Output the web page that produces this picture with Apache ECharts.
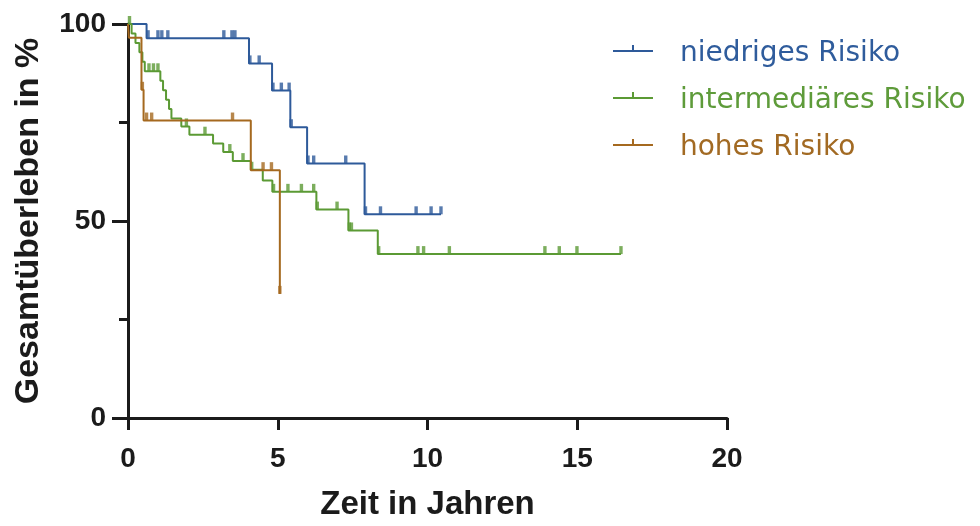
<!DOCTYPE html>
<html>
<head>
<meta charset="utf-8">
<script src="https://cdn.jsdelivr.net/npm/echarts@6/dist/echarts.min.js"></script>
<style>
  html, body { margin: 0; padding: 0; background: #ffffff; }
  #chart { width: 980px; height: 526px; }
</style>
</head>
<body>
<div id="chart"></div>
<script>
// Kaplan–Meier Gesamtüberleben nach Risikogruppe
const groupNames = ['niedriges Risiko', 'intermediäres Risiko', 'hohes Risiko'];

// niedriges Risiko: Zeitpunkte (Jahre), an denen eine neue Stufe beginnt, und Überleben in %
const lowTimes = [0, 0.62, 4.04, 4.81, 5.42, 5.98, 7.9, 10.45];
const lowSurv = [100, 96.4, 90.0, 83.1, 73.8, 64.6, 51.7, 51.7];
const lowCensored = [0.67, 1.0, 1.13, 1.33, 3.2, 3.47, 3.57, 4.07, 4.38, 4.84, 5.12, 5.38, 5.45,
  6.01, 6.2, 7.27, 7.93, 8.43, 9.62, 10.12, 10.45];

// intermediäres Risiko
const midTimes = [0, 0.12, 0.25, 0.38, 0.48, 0.56, 1.08, 1.17, 1.27, 1.37, 1.45, 1.78, 2.05,
  2.84, 3.18, 3.5, 4.1, 4.5, 4.82, 6.29, 7.36, 8.34, 16.46];
const midSurv = [100, 97.6, 95.2, 92.8, 90.4, 88.0, 85.6, 83.2, 80.8, 78.4, 76.0, 74.0, 71.9,
  69.7, 67.5, 65.2, 63.0, 60.3, 57.4, 52.9, 47.6, 41.6, 41.6];
const midCensored = [0.05, 0.7, 0.85, 1.0, 1.95, 2.57, 3.4, 3.84, 4.13, 4.86, 5.34, 5.79, 6.2,
  6.32, 6.98, 7.39, 7.46, 8.37, 9.68, 9.87, 10.73, 13.92, 14.4, 14.99, 16.46];

// hohes Risiko
const highTimes = [0, 0.03, 0.45, 0.52, 4.1, 5.07];
const highSurv = [100, 96.5, 83.3, 75.5, 62.9, 31.5];
const highCensored = [0.48, 0.62, 0.79, 3.49, 4.51, 4.79, 5.07];

// Achsenbeschriftungen
const xTicks = [0, 5, 10, 15, 20];
const yTicks = [0, 50, 100];

const colors = ['#2e5a9a', '#5b9a34', '#a5691f'];
const textColors = ['#2f5c9c', '#5e9b3a', '#a26a23'];

// Überleben zu einem Zeitpunkt aus der Stufenfunktion ablesen
function survivalAt(times, levels, t) {
  let v = levels[0];
  for (let i = 0; i < times.length; i++) {
    if (times[i] <= t + 1e-9) v = levels[i];
  }
  return v;
}

const groups = [
  { times: lowTimes, surv: lowSurv, cens: lowCensored },
  { times: midTimes, surv: midSurv, cens: midCensored },
  { times: highTimes, surv: highSurv, cens: highCensored }
];

const series = [];
groups.forEach((g, k) => {
  series.push({
    name: groupNames[k],
    type: 'line',
    step: 'end',
    color: colors[k],
    symbol: 'none',
    clip: false,
    lineStyle: { width: 2, color: colors[k] },
    data: g.times.map((t, i) => [t, g.surv[i]]),
    z: 3 + k
  });
  // Zensierungsmarken als kurze senkrechte Striche
  series.push({
    name: groupNames[k],
    type: 'scatter',
    color: colors[k],
    symbol: 'rect',
    symbolSize: [3.4, 8],
    symbolOffset: [0, -4],
    clip: false,
    itemStyle: { color: colors[k] },
    data: g.cens.map(t => [t, survivalAt(g.times, g.surv, t)]),
    z: 3 + k
  });
});

// Legendensymbol: Linie mit Zensierungsstrich; der leere Teilpfad unten
// verschiebt die Linie etwas über die Textmitte
const tickIcon = 'path://M0 5 L40 5 L40 7 L0 7 Z M19 0 L21 0 L21 5 L19 5 Z M0 18 L0.01 18 L0 18.01 Z';

const axisColor = '#1b1b1b';

const option = {
  backgroundColor: '#ffffff',
  animation: false,
  grid: { left: 128, right: 253, top: 24, bottom: 104, containLabel: false },
  legend: {
    orient: 'vertical',
    left: 608,
    top: 35,
    itemWidth: 40,
    itemHeight: 18,
    itemGap: 19,
    selectedMode: false,
    textStyle: {
      fontFamily: 'DejaVu Sans',
      fontSize: 28,
      padding: [0, 0, 0, 22]
    },
    data: groupNames.map((n, k) => ({
      name: n,
      icon: tickIcon,
      itemStyle: { color: colors[k] },
      textStyle: { color: textColors[k] }
    }))
  },
  xAxis: {
    type: 'value',
    min: 0,
    max: 20,
    interval: 5,
    name: 'Zeit in Jahren',
    nameLocation: 'middle',
    nameGap: 70,
    nameTextStyle: {
      fontFamily: 'Liberation Sans',
      fontWeight: 'bold',
      fontSize: 33,
      color: axisColor
    },
    splitLine: { show: false },
    axisLine: { show: true, lineStyle: { color: axisColor, width: 3 } },
    axisTick: { show: true, inside: false, length: 12, lineStyle: { color: axisColor, width: 3 } },
    axisLabel: {
      margin: 27,
      fontFamily: 'Liberation Sans',
      fontWeight: 'bold',
      fontSize: 28,
      color: axisColor,
      formatter: v => (xTicks.includes(v) ? String(v) : '')
    }
  },
  yAxis: {
    type: 'value',
    min: 0,
    max: 100,
    interval: 50,
    name: 'Gesamtüberleben in %',
    nameLocation: 'middle',
    nameGap: 82,
    nameTextStyle: {
      fontFamily: 'Liberation Sans',
      fontWeight: 'bold',
      fontSize: 34,
      color: axisColor
    },
    splitLine: { show: false },
    axisLine: { show: true, lineStyle: { color: axisColor, width: 3 } },
    axisTick: { show: true, inside: false, length: 16, lineStyle: { color: axisColor, width: 3 } },
    minorTick: { show: true, splitNumber: 2, length: 9, lineStyle: { color: axisColor, width: 3 } },
    minorSplitLine: { show: false },
    axisLabel: {
      margin: 22,
      fontFamily: 'Liberation Sans',
      fontWeight: 'bold',
      fontSize: 28,
      color: axisColor,
      formatter: v => (yTicks.includes(v) ? String(v) : '')
    }
  },
  series: series
};

const chart = echarts.init(document.getElementById('chart'), null, { renderer: 'canvas' });
chart.setOption(option);
</script>
</body>
</html>
